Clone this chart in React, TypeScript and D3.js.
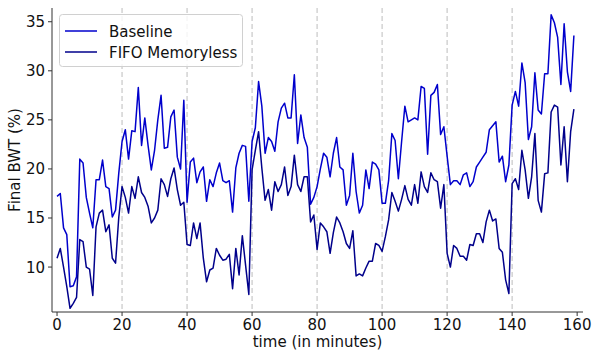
import React from "react";
import * as d3 from "d3";

const minutes: number[] = Array.from({ length: 160 }, (_, i) => i);

const baseline: number[] = [
  17.2, 17.5, 14.0, 13.3, 8.0, 8.1, 9.0, 21.0, 20.6, 17.1,
  15.5, 14.0, 18.9, 18.9, 20.9, 18.2, 18.0, 15.1, 15.8, 19.6,
  22.8, 24.0, 21.0, 23.9, 23.8, 28.3, 22.4, 25.2, 22.4, 19.9,
  21.9, 25.0, 27.5, 22.1, 22.2, 25.3, 26.0, 21.2, 20.0, 27.0,
  16.6, 20.7, 21.1, 18.6, 19.7, 20.2, 16.7, 18.9, 18.2, 19.6,
  20.6, 18.8, 18.6, 18.8, 15.6, 20.1, 21.6, 22.4, 22.3, 16.7,
  22.8, 24.2, 28.9, 26.4, 21.6, 23.2, 22.8, 21.8, 24.8, 26.2,
  26.7, 25.2, 25.2, 29.6, 22.6, 25.5, 23.2, 22.2, 16.4, 17.1,
  18.2, 20.0, 21.6, 21.2, 19.2, 21.6, 23.2, 20.2, 19.9, 16.3,
  17.3, 21.6, 17.7, 15.5, 16.3, 19.9, 18.0, 20.7, 20.5, 19.9,
  16.5, 16.5, 18.8, 23.6, 22.9, 19.0, 22.8, 26.4, 24.8, 25.0,
  25.2, 25.0, 28.4, 28.2, 21.5, 27.5, 27.8, 28.6, 23.5, 24.3,
  21.3, 18.4, 18.8, 18.8, 18.4, 19.4, 19.6, 18.2, 18.7, 20.2,
  20.7, 21.2, 21.7, 24.0, 24.4, 24.8, 20.7, 21.3, 18.7, 20.4,
  26.5, 27.9, 26.4, 30.8, 28.8, 23.0, 24.3, 29.8, 26.0, 25.6,
  29.7, 29.7, 35.7, 34.9, 33.4, 28.6, 34.8, 29.9, 27.9, 33.6,
];

const fifoMemoryless: number[] = [
  10.9, 11.9, 10.0, 8.0, 5.8, 6.3, 6.9, 12.8, 12.6, 10.0,
  9.8, 7.1, 14.1, 15.5, 15.8, 13.6, 14.3, 10.9, 10.4, 15.1,
  18.2, 17.1, 15.5, 18.2, 17.0, 19.2, 17.6, 17.1, 16.2, 14.5,
  15.0, 15.8, 19.0, 18.4, 17.2, 19.0, 20.1, 17.9, 16.3, 16.6,
  12.3, 12.2, 14.5, 12.9, 14.5, 10.9, 8.5, 9.7, 9.9, 11.9,
  11.2, 10.7, 10.8, 11.3, 7.8, 11.9, 9.2, 13.2, 10.2, 7.2,
  19.9, 21.9, 23.8, 20.1, 16.8, 17.9, 15.8, 18.7, 17.7, 18.4,
  20.2, 17.3, 18.2, 21.4, 18.4, 17.7, 19.2, 19.2, 14.6, 15.3,
  11.8, 14.5, 14.1, 13.6, 11.4, 13.5, 15.1, 14.5, 13.6, 12.4,
  11.9, 13.7, 9.1, 9.3, 9.1, 9.9, 10.6, 10.6, 12.4, 12.2,
  11.6, 13.1, 14.8, 17.6, 16.7, 15.7, 16.9, 18.3, 16.9, 16.3,
  18.4, 16.5, 19.7, 18.2, 17.6, 19.6, 18.9, 18.7, 16.0, 18.4,
  11.4, 10.0, 12.2, 11.9, 11.1, 11.1, 10.7, 12.3, 12.2, 13.4,
  13.4, 12.5, 14.6, 15.8, 14.7, 14.9, 11.9, 11.5, 8.7, 7.3,
  18.5, 19.0, 17.9, 21.9, 19.9, 17.0, 19.2, 23.6, 16.8, 15.6,
  19.5, 19.6, 25.8, 26.5, 26.3, 20.4, 24.3, 18.7, 23.8, 26.1,
];

const seriesNames: string[] = ["Baseline", "FIFO Memoryless"];
const seriesColors: string[] = ["#0000cc", "#00008b"];
const xTicks: number[] = [0, 20, 40, 60, 80, 100, 120, 140, 160];
const gridTicks: number[] = [20, 40, 60, 80, 100, 120, 140];
const yTicks: number[] = [10, 15, 20, 25, 30, 35];

export default function App() {
  const W = 601, H = 351;
  const left = 52, right = 583, top = 8, bottom = 312;
  const x = d3.scaleLinear().domain([-1.55, 161.8]).range([left, right]);
  const y = d3.scaleLinear().domain([5.42, 36.4]).range([bottom, top]);
  const font = "DejaVu Sans, sans-serif";
  const fs = 15;
  const line = d3.line<number>().x((_, i) => x(minutes[i])).y((d) => y(d));
  const allSeries = [baseline, fifoMemoryless];

  return (
    <svg width={W} height={H} style={{ position: "absolute", left: 0, top: 0, background: "#fff" }}>
      {gridTicks.map((t) => (
        <line key={"g" + t} x1={x(t)} x2={x(t)} y1={top} y2={bottom}
          stroke="#c8c8c8" strokeWidth={1.2} strokeDasharray="5,3" />
      ))}
      {allSeries.map((s, i) => (
        <path key={"s" + i} d={line(s) || ""} fill="none" stroke={seriesColors[i]}
          strokeWidth={1.5} strokeLinejoin="round" />
      ))}
      <line x1={left} x2={left} y1={top} y2={bottom} stroke="#333" strokeWidth={1} />
      <line x1={left} x2={right} y1={bottom} y2={bottom} stroke="#333" strokeWidth={1} />
      {xTicks.map((t) => (
        <g key={"x" + t}>
          <line x1={x(t)} x2={x(t)} y1={bottom} y2={bottom + 4} stroke="#333" />
          <text x={x(t)} y={bottom + 18} fontSize={fs} fontFamily={font} textAnchor="middle" fill="#111">{t}</text>
        </g>
      ))}
      {yTicks.map((t) => (
        <g key={"y" + t}>
          <line x1={left - 4} x2={left} y1={y(t)} y2={y(t)} stroke="#333" />
          <text x={left - 7} y={y(t) + 5.5} fontSize={fs} fontFamily={font} textAnchor="end" fill="#111">{t}</text>
        </g>
      ))}
      <text x={(left + right) / 2} y={347} fontSize={fs} fontFamily={font} textAnchor="middle" fill="#111">time (in minutes)</text>
      <text transform={`translate(20, ${(top + bottom) / 2}) rotate(-90)`} fontSize={fs} fontFamily={font}
        textAnchor="middle" fill="#111">Final BWT (%)</text>
      <g>
        <rect x={59.5} y={14.5} width={183} height={52} rx={3} fill="#fff" fillOpacity={0.8} stroke="#d0d0d0" />
        {seriesNames.map((n, i) => (
          <g key={"l" + i}>
            <line x1={65} x2={97} y1={31 + i * 21} y2={31 + i * 21} stroke={seriesColors[i]} strokeWidth={1.5} />
            <text x={109} y={36.5 + i * 21} fontSize={fs} fontFamily={font} fill="#111">{n}</text>
          </g>
        ))}
      </g>
    </svg>
  );
}
